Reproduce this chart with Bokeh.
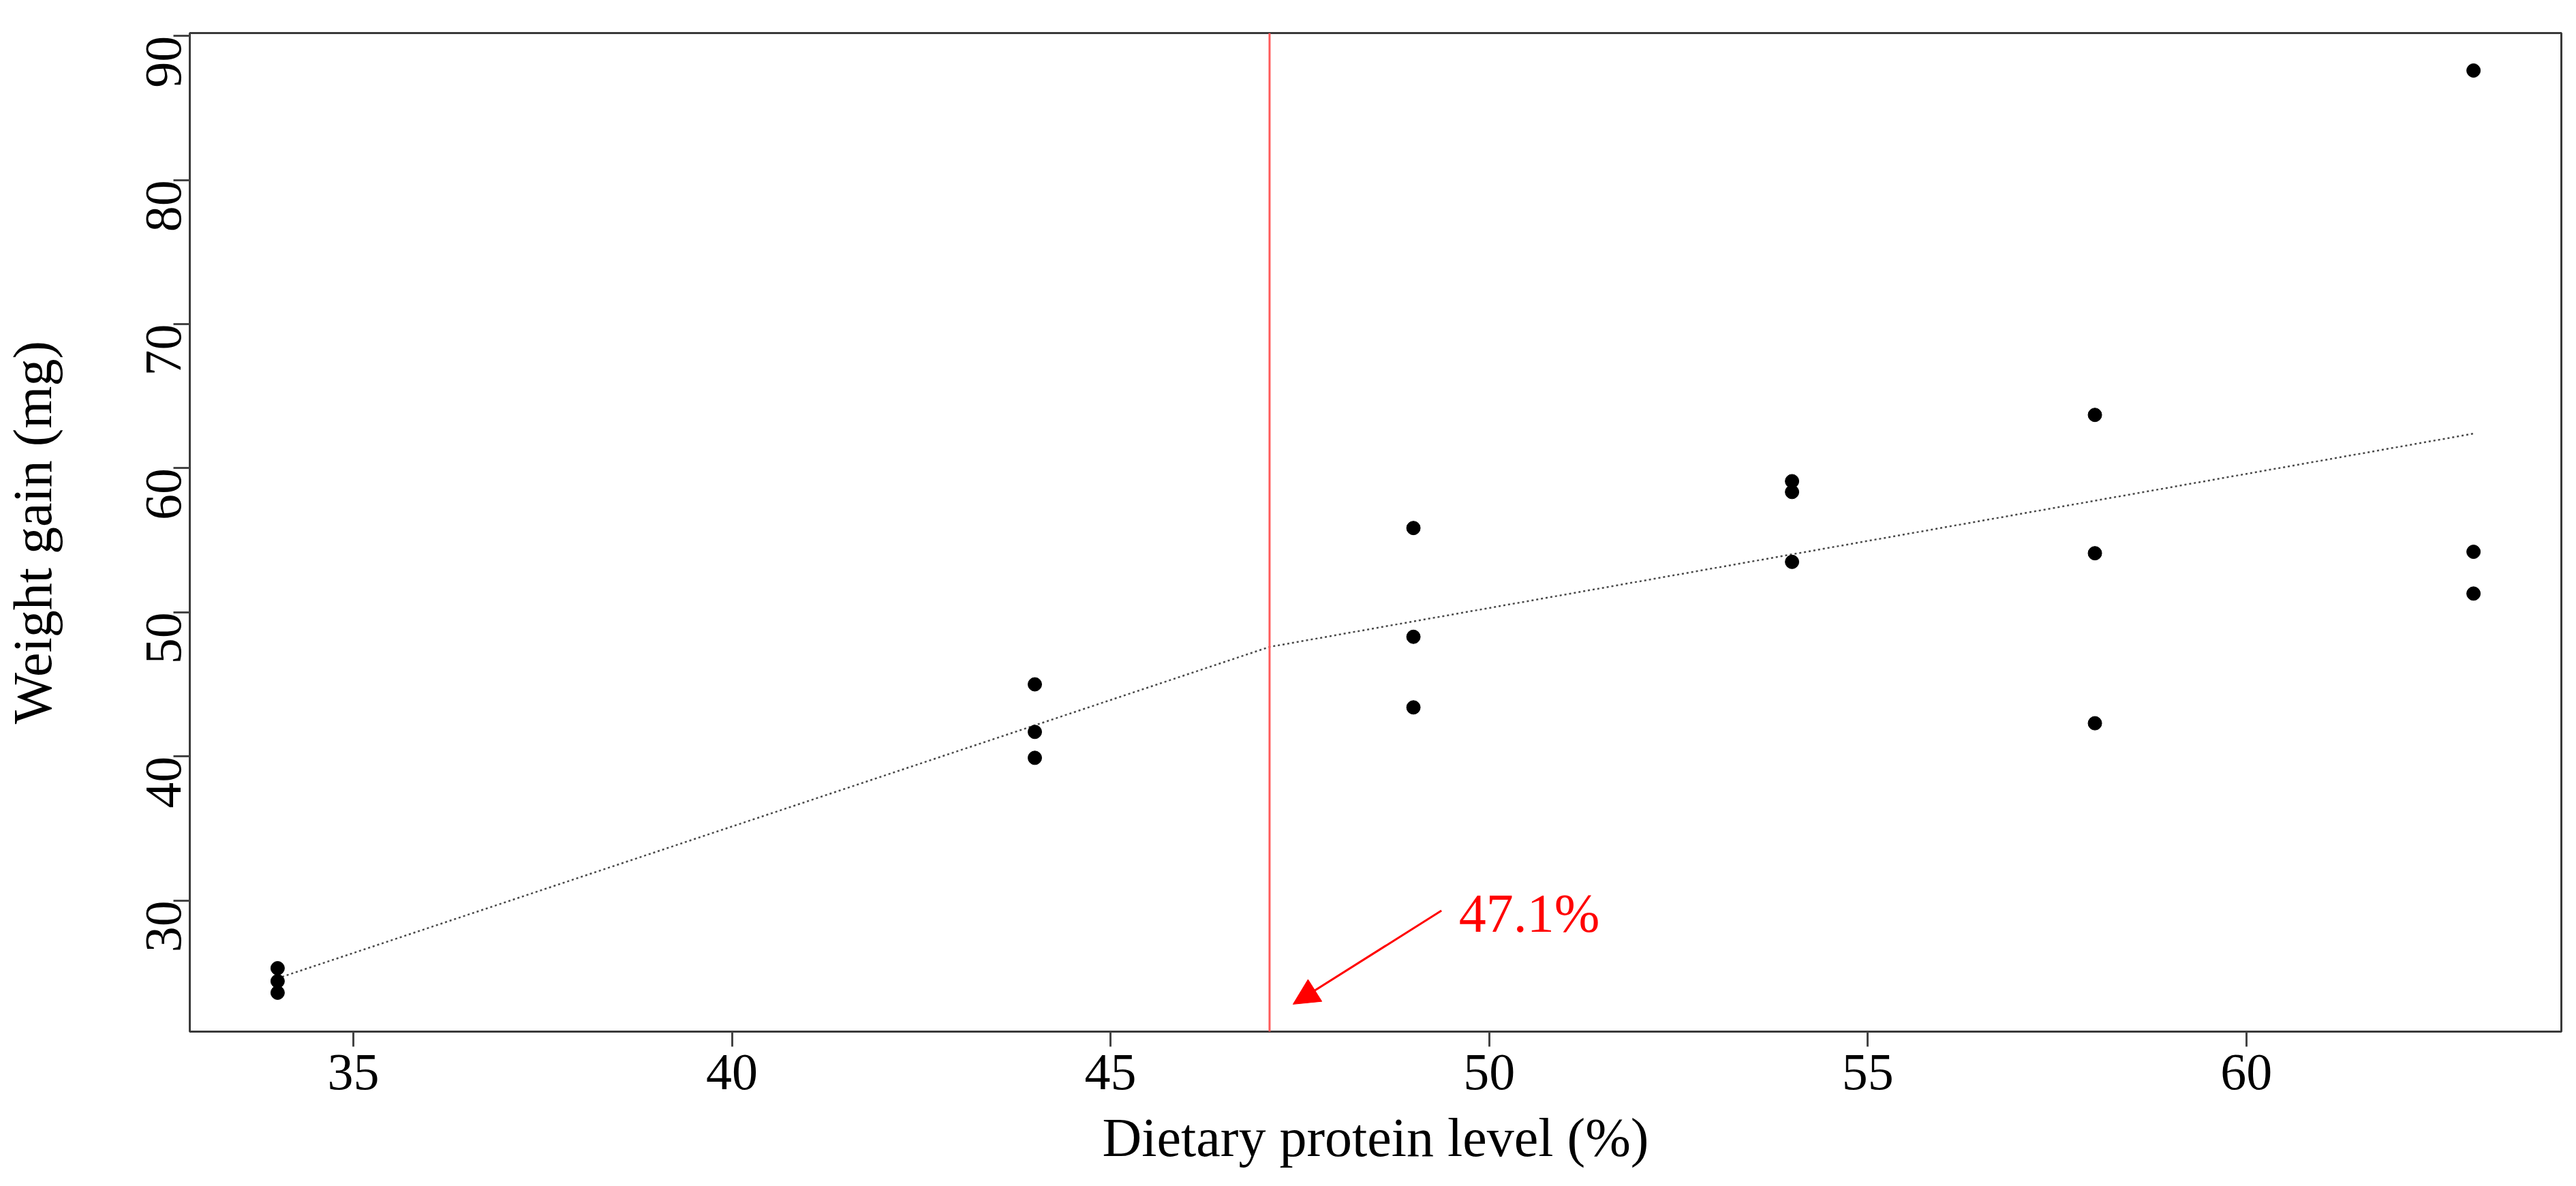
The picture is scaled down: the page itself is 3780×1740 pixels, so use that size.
import math
from bokeh.plotting import figure
from bokeh.models import Range1d, Span, Arrow, NormalHead, FixedTicker, ColumnDataSource
from bokeh.core.properties import value
from bokeh.embed import file_html
from bokeh.resources import INLINE

# ---- data ----
protein = [34, 34, 34, 44, 44, 44, 49, 49, 49, 54, 54, 54, 58, 58, 58, 63, 63, 63]
weight_gain = [25.3, 24.4, 23.6, 45.0, 41.7, 39.9, 55.85, 48.3, 43.4,
               59.1, 58.35, 53.5, 63.7, 54.1, 42.3, 87.6, 54.2, 51.3]

# broken-line fit (knots)
fit_x = [34, 47.1, 63]
fit_y = [24.6, 47.6, 62.4]

breakpoint = 47.1
label_text = "47.1%"
label_pos = (49.6, 29.1)
arrow_tail = (49.37, 29.3)
arrow_head = (47.41, 22.8)

x_ticks = [35, 40, 45, 50, 55, 60]
y_ticks = [30, 40, 50, 60, 70, 80, 90]

FONT = "Liberation Serif"

p = figure(width=3764, height=1724, output_backend="svg", toolbar_location=None,
           title=None,
           x_range=Range1d(32.84, 64.16), y_range=Range1d(20.9, 90.2),
           min_border_left=273, min_border_right=6, min_border_top=48,
           min_border_bottom=211)

p.background_fill_color = "white"
p.border_fill_color = "white"
p.outline_line_color = "#3a3a3a"
p.outline_line_width = 3
p.xgrid.visible = False
p.ygrid.visible = False

for ax in (p.xaxis[0], p.yaxis[0]):
    ax.axis_line_color = None
    ax.major_tick_line_color = "#444444"
    ax.major_tick_line_width = 3
    ax.major_tick_in = 0
    ax.minor_tick_line_color = None
    ax.major_label_text_font = FONT
    ax.major_label_text_font_size = "76px"
    ax.major_label_text_color = "black"
    ax.axis_label_text_font = FONT
    ax.axis_label_text_font_size = "80px"
    ax.axis_label_text_font_style = "normal"
    ax.axis_label_text_color = "black"

p.xaxis.ticker = FixedTicker(ticks=x_ticks)
p.yaxis.ticker = FixedTicker(ticks=y_ticks)
p.xaxis.major_tick_out = 22
p.yaxis.major_tick_out = 24
p.xaxis.major_label_standoff = 12
p.yaxis.major_label_standoff = 14
p.yaxis.major_label_orientation = math.pi / 2
p.xaxis.axis_label = "Dietary protein level (%)"
p.yaxis.axis_label = "Weight gain (mg)"
p.xaxis.axis_label_standoff = 24
p.yaxis.axis_label_standoff = 96

# fitted broken line
p.line(fit_x, fit_y, line_color="#484848", line_width=2.5, line_dash="3 4")

# breakpoint line
p.add_layout(Span(location=breakpoint, dimension="height", line_color="#ff5a5a",
                  line_width=3))

# points
src = ColumnDataSource(dict(x=protein, y=weight_gain))
p.scatter("x", "y", source=src, size=20, marker="circle",
          fill_color="black", line_color="black")

# arrow and label
p.add_layout(Arrow(end=NormalHead(size=38, fill_color="red", line_color="red"),
                   x_start=arrow_tail[0], y_start=arrow_tail[1],
                   x_end=arrow_head[0], y_end=arrow_head[1],
                   line_color="red", line_width=3))
p.text(x=[label_pos[0]], y=[label_pos[1]], text=[label_text],
       text_font=value(FONT), text_font_size="80px", text_color="red",
       text_align="left", text_baseline="alphabetic")

open("out.html", "w").write(file_html(p, INLINE))
